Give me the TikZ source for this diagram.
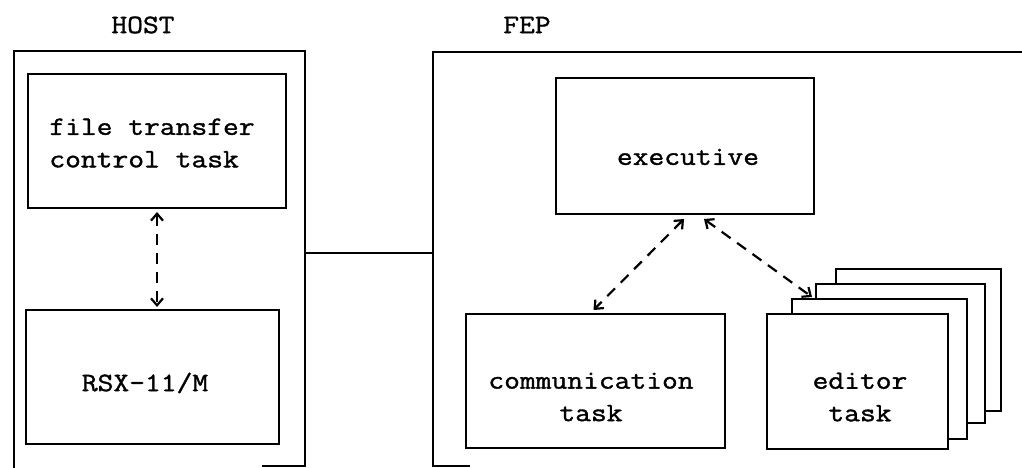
\documentclass[tikz,border=0pt]{standalone}
\usepackage{fontspec}
\setmonofont{Latin Modern Mono}[FakeStretch=1.157, FakeBold=1.3]
\usetikzlibrary{arrows.meta}
\tikzset{
  box/.style={draw, line width=2bp, inner sep=0pt, anchor=north west},
  frame/.style={line width=2bp, line cap=butt},
  txt/.style={font=\ttfamily\fontsize{26.5bp}{32.5bp}\selectfont, inner sep=0pt, align=center},
  dasharrow/.style={line width=2.2bp, dash pattern=on 11bp off 8bp,
    {Straight Barb[length=7bp,width=12bp]}-{Straight Barb[length=7bp,width=12bp]}},
  link/.style={line width=2bp}
}
\begin{document}
\begin{tikzpicture}[x=1bp, y=-1bp]
  \useasboundingbox (0,0) rectangle (1022,468);

  % titles
  \node[txt] (hostlbl) at (143,25) {HOST};
  \node[txt] (feplbl) at (527,25) {FEP};

  % HOST enclosure, open at the bottom
  \coordinate (hostTL) at (14,51);
  \coordinate (hostTR) at (305,51);
  \draw[frame] (14,468) -- (hostTL) -- (hostTR) -- (305,466) -- (262,466);

  % FEP enclosure, running off to the right
  \coordinate (fepTL) at (433,52);
  \draw[frame] (1030,52) -- (fepTL) -- (433,466) -- (470,466);

  % link between the two machines
  \coordinate (hostport) at (305,253);
  \coordinate (fepport) at (433,253);
  \draw[link] (hostport) -- (fepport);

  % HOST tasks
  \node[box, minimum width=258bp, minimum height=134bp] (ftc) at (27,73) {};
  \node[txt, align=left] (ftctxt) at (152,143) {file transfer\\control task};
  \node[box, minimum width=253bp, minimum height=134bp] (rsx) at (25,309) {};
  \node[txt] (rsxtxt) at (145,383) {RSX-11/M};

  % FEP executive
  \node[box, minimum width=258bp, minimum height=136bp] (exec) at (555,77) {};
  \node[txt] (exectxt) at (688,157) {executive};

  % communication task
  \node[box, minimum width=259bp, minimum height=134bp] (comm) at (465,313) {};
  \node[txt] (commtxt) at (591,397) {communication\\task};

  % stack of editor tasks, back to front
  \node[box, fill=white, minimum width=165bp, minimum height=142bp] (ed4) at (835,268) {};
  \node[box, fill=white, minimum width=169bp, minimum height=139bp] (ed3) at (815,283) {};
  \node[box, fill=white, minimum width=175bp, minimum height=140bp] (ed2) at (791,298) {};
  \node[box, fill=white, minimum width=181bp, minimum height=135bp] (ed1) at (766,313) {};
  \node[txt] (edtxt) at (860,397) {editor\\task};

  % message paths
  \draw[dasharrow] ([yshift=-3bp]ftc.south) -- ([yshift=2bp]ftc.south |- rsx.north);
  \draw[dasharrow] ([xshift=-1bp,yshift=-4bp]exec.south) -- ([xshift=-2bp,yshift=3bp]comm.north);
  \draw[dasharrow] ([xshift=19bp,yshift=-4bp]exec.south) -- ([xshift=21bp,yshift=1bp]ed2.north west);
\end{tikzpicture}
\end{document}
